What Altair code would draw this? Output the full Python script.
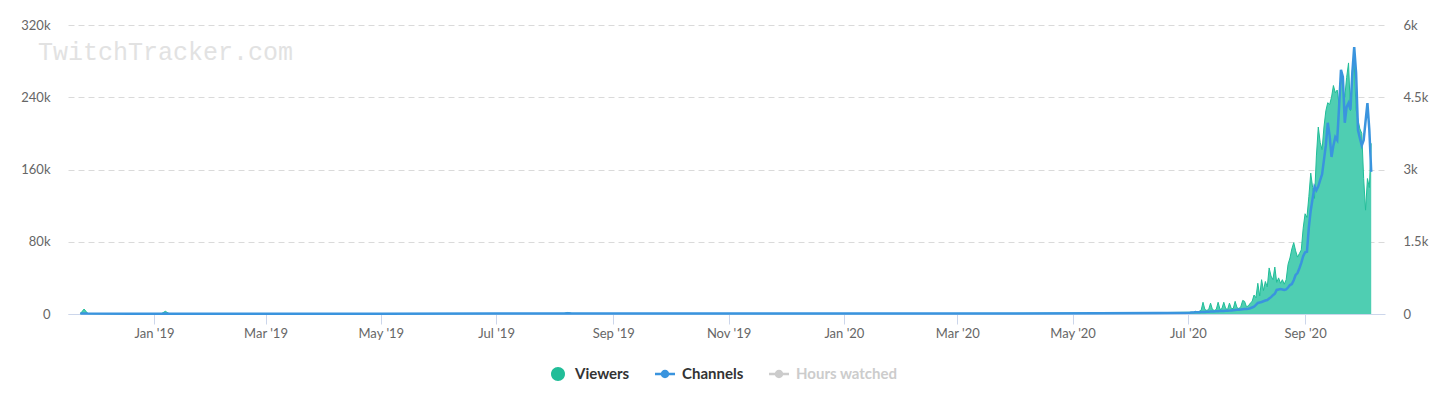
import altair as alt
import pandas as pd

# ---- data ----
# sparse readings for the long flat period (viewers in thousands, channels)
early_dates = ["2018-11-23", "2018-11-25", "2018-11-27", "2018-12-20", "2019-01-05",
               "2019-01-07", "2019-01-09", "2019-03-01", "2019-05-01", "2019-07-01",
               "2019-08-06", "2019-08-08", "2019-08-10", "2019-10-01", "2019-12-01",
               "2020-02-01", "2020-04-01", "2020-05-15", "2020-06-15", "2020-07-02"]
early_viewers_k = [0.3, 5.5, 0.4, 0.3, 0.4, 3.0, 0.4, 0.3, 0.4, 0.5,
                   0.6, 1.8, 0.6, 0.5, 0.4, 0.5, 0.7, 1.0, 1.5, 2.0]
early_channels = [8, 12, 8, 6, 6, 10, 6, 5, 6, 8,
                  10, 14, 10, 8, 8, 8, 10, 14, 20, 28]

# daily readings from 2020-07-03 to 2020-10-06
daily_start = "2020-07-03"
daily_viewers_k = [
    2, 2, 3, 2, 3, 4, 13, 5, 4, 5,
    12, 5, 4, 5, 13, 5, 6, 13, 6, 5,
    12, 6, 6, 14, 7, 6, 8, 15, 14, 8,
    9, 12, 14, 21, 18, 34, 20, 38, 26, 36,
    30, 51, 42, 38, 52, 35, 40, 34, 38, 33,
    38, 55, 62, 72, 79, 70, 63, 67, 71, 95,
    111, 107, 130, 156, 140, 128, 175, 207, 190, 182,
    207, 225, 234, 232, 240, 253, 245, 248, 232, 267,
    250, 240, 262, 278, 225, 270, 278, 226, 215, 205,
    200, 150, 115, 150, 140, 189]
daily_channels = [
    30, 32, 34, 36, 38, 40, 42, 44, 46, 48,
    50, 52, 54, 56, 58, 60, 62, 64, 66, 68,
    70, 74, 78, 82, 86, 90, 94, 98, 102, 106,
    110, 120, 135, 150, 190, 230, 240, 250, 265, 280,
    290, 320, 350, 390, 420, 500, 510, 520, 510, 500,
    510, 550, 600, 620, 700, 810, 850, 950, 1060, 1200,
    1280, 1290, 1800, 2150, 2400, 2640, 2570, 2650, 2780, 2900,
    3200, 3500, 3970, 3700, 3260, 3500, 3670, 3610, 4300, 5070,
    4920, 3970, 4300, 4380, 4240, 5000, 5540, 5000, 3820, 3650,
    3500, 3610, 4000, 4380, 3820, 2950]

series_names = ["Viewers", "Channels", "Hours watched"]
series_colors = ["#21bd98", "#3a94de", "#cccccc"]

left_ticks = [0, 80000, 160000, 240000, 320000]
right_ticks = [0, 1500, 3000, 4500, 6000]
x_tick_dates = ["2019-01-01", "2019-03-01", "2019-05-01", "2019-07-01", "2019-09-01",
                "2019-11-01", "2020-01-01", "2020-03-01", "2020-05-01", "2020-07-01",
                "2020-09-01"]
x_domain = ["2018-11-16 12:00", "2020-10-13 07:00"]
watermark = "TwitchTracker.com"

# ---- build tables ----
daily_dates = pd.date_range(daily_start, periods=len(daily_viewers_k), freq="D").strftime("%Y-%m-%d").tolist()
df = pd.DataFrame({
    "date": early_dates + daily_dates,
    "viewers": [v * 1000 for v in early_viewers_k + daily_viewers_k],
    "channels": early_channels + daily_channels,
})

def ms(s):
    return int(pd.Timestamp(s, tz="UTC").value // 10**6)

FONT = "Lato"

x_axis = alt.Axis(values=[ms(d) for d in x_tick_dates],
                  labelExpr="utcFormat(datum.value, \"%b '%y\")",
                  title=None, grid=False, domainColor="#ccd6eb", tickColor="#ccd6eb",
                  tickSize=10, labelPadding=3, labelColor="#666666", labelFont=FONT,
                  labelFontSize=13, labelFlush=False)
x_scale = alt.Scale(type="utc", domain=[ms(d) for d in x_domain], nice=False)

area = alt.Chart(df).mark_area(
    color="#4fceb2", line={"color": "#21bd98", "strokeWidth": 1}, interpolate="linear", opacity=1
).encode(
    x=alt.X("date:T", scale=x_scale, axis=x_axis),
    y=alt.Y("viewers:Q", scale=alt.Scale(domain=[0, 320000], nice=False),
            axis=alt.Axis(values=left_ticks, title=None, domain=False, ticks=False,
                          grid=True, gridColor="#dadada", gridDash=[6, 4], gridWidth=1,
                          labelPadding=18, labelColor="#666666", labelFont=FONT, labelFontSize=13,
                          labelExpr="datum.value == 0 ? '0' : format(datum.value / 1000, '~g') + 'k'")),
)

line = alt.Chart(df).mark_line(color="#3a94de", strokeWidth=2.5, interpolate="linear").encode(
    x=alt.X("date:T", scale=x_scale, axis=x_axis),
    y=alt.Y("channels:Q", scale=alt.Scale(domain=[0, 6000], nice=False),
            axis=alt.Axis(orient="right", values=right_ticks, title=None, domain=False, ticks=False,
                          grid=False, labelPadding=18, labelColor="#666666", labelFont=FONT,
                          labelFontSize=13,
                          labelExpr="datum.value == 0 ? '0' : format(datum.value / 1000, '~g') + 'k'")),
)

legend_df = pd.DataFrame({"series": series_names})
circle_path = "M0.7,0 A0.7,0.7 0 1 1 -0.7,0 A0.7,0.7 0 1 1 0.7,0 Z"
linedot_path = ("M-1,-0.13 L-0.4,-0.13 L-0.4,0.13 L-1,0.13 Z "
                "M0.4,-0.13 L1,-0.13 L1,0.13 L0.4,0.13 Z "
                "M0.42,0 A0.42,0.42 0 1 1 -0.42,0 A0.42,0.42 0 1 1 0.42,0 Z")
legend_def = alt.Legend(orient="none", legendX=480, legendY=339, direction="horizontal", title=None,
                        symbolSize=400, labelFont=FONT, labelFontSize=15, labelFontWeight="bold",
                        labelColor=alt.ExprRef("datum.label == 'Hours watched' ? '#cccccc' : '#333333'"),
                        columnPadding=25, labelOffset=7, symbolStrokeWidth=0, symbolOpacity=1,
                        padding=0)
legend_layer = alt.Chart(legend_df).mark_point(filled=True, opacity=0, size=1).encode(
    color=alt.Color("series:N", scale=alt.Scale(domain=series_names, range=series_colors),
                    legend=legend_def, sort=series_names),
    shape=alt.Shape("series:N", scale=alt.Scale(domain=series_names,
                                                range=[circle_path, linedot_path, linedot_path]),
                    legend=legend_def, sort=series_names),
)

wm_df = pd.DataFrame({"t": [watermark]})
wm = alt.Chart(wm_df).mark_text(font="Liberation Mono", fontSize=25, color="#e2e2e2",
                                align="left", baseline="middle").encode(
    text="t:N", x=alt.value(-30), y=alt.value(27))

chart = alt.layer(wm, area, line, legend_layer).resolve_scale(
    y="independent", color="independent", shape="independent"
).properties(
    width=1317, height=289,
    autosize=alt.AutoSizeParams(type="none"),
    padding={"left": 68, "top": 25, "right": 55, "bottom": 81},
).configure(background="white").configure_view(stroke=None)

chart.save("out.html", embed_options={"renderer": "svg", "actions": False})
